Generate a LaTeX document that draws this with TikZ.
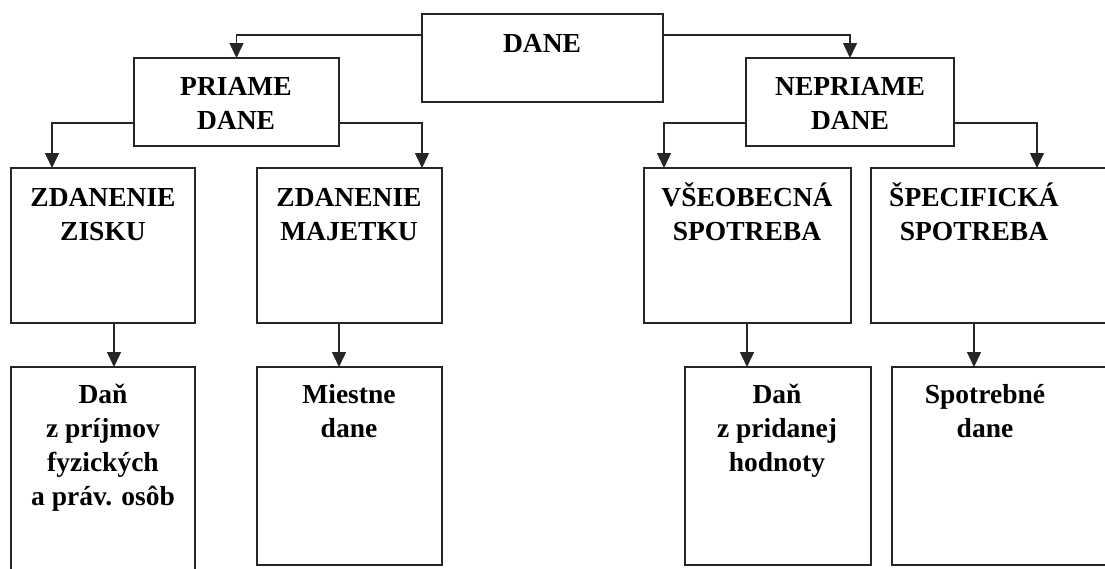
\documentclass[tikz,border=0pt]{standalone}
\usepackage{fontspec}
\setmainfont{Liberation Serif}
\usetikzlibrary{arrows.meta}
\definecolor{ln}{gray}{0.15}
\tikzset{
  box/.style={draw=ln, line width=1.5pt, rectangle, anchor=north west, inner sep=0pt, outer sep=0pt},
  lbl/.style={anchor=base, align=center, inner sep=0pt, font=\fontsize{27.5}{34}\selectfont\bfseries},
  arr/.style={draw=ln, line width=1.5pt, -{Triangle[length=15pt,width=14pt]}},
}
\begin{document}
\begin{tikzpicture}[x=1pt,y=-1pt]
\useasboundingbox (0,0) rectangle (1105,568);
\clip (0,0) rectangle (1105,568);
% boxes
\node[box, minimum width=241pt, minimum height=88pt] (dane) at (422,14) {};
\node[box, minimum width=205pt, minimum height=88pt] (priame) at (134,58) {};
\node[box, minimum width=208pt, minimum height=88pt] (nepriame) at (746,58) {};
\node[box, minimum width=184pt, minimum height=155pt] (zisku) at (11,168) {};
\node[box, minimum width=185pt, minimum height=155pt] (majetku) at (257,168) {};
\node[box, minimum width=207pt, minimum height=155pt] (vseo) at (644,168) {};
\node[box, minimum width=260pt, minimum height=155pt] (spec) at (871,168) {};
\node[box, minimum width=184pt, minimum height=240pt] (dan1) at (11,367) {};
\node[box, minimum width=185pt, minimum height=198pt] (miestne) at (257,367) {};
\node[box, minimum width=186pt, minimum height=198pt] (dan2) at (685,367) {};
\node[box, minimum width=260pt, minimum height=198pt] (spotreb) at (892,367) {};
% labels (anchor = baseline of last line)
\node[lbl] (tdane) at (542,52) {DANE};
\node[lbl] (tpriame) at (236,129) {PRIAME\\DANE};
\node[lbl] (tnepriame) at (850,129) {NEPRIAME\\DANE};
\node[lbl] (tzisku) at (103,240) {ZDANENIE\\ZISKU};
\node[lbl] (tmajetku) at (349,240) {ZDANENIE\\MAJETKU};
\node[lbl] (tvseo) at (747,240) {VŠEOBECNÁ\\SPOTREBA};
\node[lbl] (tspec) at (974,240) {ŠPECIFICKÁ\\SPOTREBA};
\node[lbl] (tdan1) at (103,505) {Daň\\z príjmov\\fyzických\\a práv. osôb};
\node[lbl] (tmiestne) at (349,437) {Miestne\\dane};
\node[lbl] (tdan2) at (777,471) {Daň\\z pridanej\\hodnoty};
\node[lbl] (tspotreb) at (985,437) {Spotrebné\\dane};
% connectors
\draw[arr] ([yshift=-21pt]dane.north west) -| (priame.north);
\draw[arr] ([yshift=-21pt]dane.north east) -| (nepriame.north);
\draw[arr] ([yshift=-65pt]priame.north west) -| ([xshift=41pt]zisku.north west);
\draw[arr] ([yshift=-65pt]priame.north east) -| ([xshift=-20pt]majetku.north east);
\draw[arr] ([yshift=-65pt]nepriame.north west) -| ([xshift=20pt]vseo.north west);
\draw[arr] ([yshift=-65pt]nepriame.north east) -| ([xshift=166pt]spec.north west);
\draw[arr] ([xshift=103pt]zisku.south west) -- ([xshift=103pt]zisku.south west |- dan1.north);
\draw[arr] ([xshift=82pt]majetku.south west) -- ([xshift=82pt]majetku.south west |- miestne.north);
\draw[arr] ([xshift=103pt]vseo.south west) -- ([xshift=103pt]vseo.south west |- dan2.north);
\draw[arr] ([xshift=103pt]spec.south west) -- ([xshift=103pt]spec.south west |- spotreb.north);
\end{tikzpicture}
\end{document}
